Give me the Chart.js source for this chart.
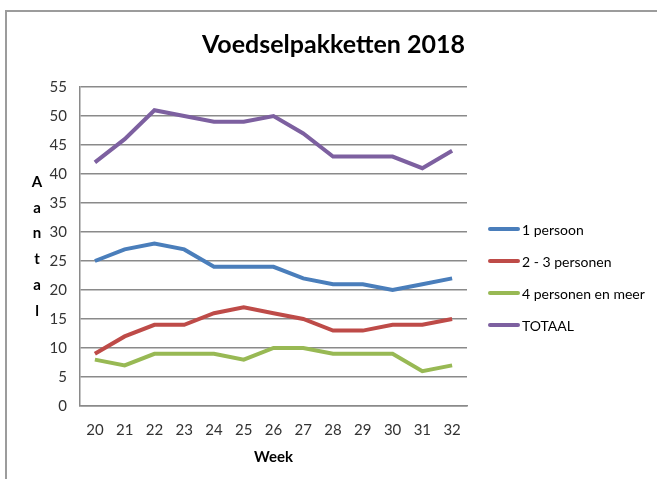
<!DOCTYPE html>
<html>
<head>
<meta charset="utf-8">
<script src="https://cdn.jsdelivr.net/npm/chart.js@4"></script>
<style>
  html, body { margin: 0; padding: 0; background: #fff; overflow: hidden; }
  #wrap { position: relative; width: 657px; height: 479px; }
  #frame { position: absolute; left: 5px; top: 10px; width: 700px; height: 520px; border-left: 2px solid #9c9c9c; border-top: 2px solid #9c9c9c; }
  #legend { position: absolute; left: 488px; top: 213px; font-family: Lato, sans-serif; font-size: 14px; color: #000; }
  #legend .item { display: flex; align-items: center; height: 32px; }
  #legend .swatch { width: 32px; height: 4px; border-radius: 2px; margin-right: 2px; }
</style>
</head>
<body>
<div id="wrap">
  <div id="frame"></div>
  <canvas id="chart" width="657" height="479"></canvas>
  <div id="legend"></div>
</div>
<script>
const weeks = ['20','21','22','23','24','25','26','27','28','29','30','31','32'];
const eenPersoon = [25, 27, 28, 27, 24, 24, 24, 22, 21, 21, 20, 21, 22];
const tweeDriePersonen = [9, 12, 14, 14, 16, 17, 16, 15, 13, 13, 14, 14, 15];
const vierPlus = [8, 7, 9, 9, 9, 8, 10, 10, 9, 9, 9, 6, 7];
const totaal = [42, 46, 51, 50, 49, 49, 50, 47, 43, 43, 43, 41, 44];
const seriesLabels = ['1 persoon', '2 - 3 personen', '4 personen en meer', 'TOTAAL'];
const seriesColors = ['#4a7ebb', '#be4b48', '#98b954', '#7d60a0'];
const yAxisLetters = ['A', 'a', 'n', 't', 'a', 'l'];

const FONT = 'Lato, "Open Sans", sans-serif';

// vertical stacked y-axis title like Excel
const stackedYTitle = {
  id: 'stackedYTitle',
  afterDraw(chart) {
    const { ctx, chartArea } = chart;
    const step = 25.8;
    const mid = (chartArea.top + chartArea.bottom) / 2;
    const start = mid - step * (yAxisLetters.length - 1) / 2;
    ctx.save();
    ctx.font = 'bold 15px ' + FONT;
    ctx.fillStyle = '#000';
    ctx.textAlign = 'center';
    ctx.textBaseline = 'middle';
    yAxisLetters.forEach((ch, i) => ctx.fillText(ch, 37, start + i * step));
    ctx.restore();
  }
};

const chart = new Chart(document.getElementById('chart'), {
  type: 'line',
  data: {
    labels: weeks,
    datasets: [eenPersoon, tweeDriePersonen, vierPlus, totaal].map((d, i) => ({
      label: seriesLabels[i],
      data: d,
      borderColor: seriesColors[i],
      backgroundColor: seriesColors[i],
      borderWidth: 4,
      pointRadius: 0,
      tension: 0,
      fill: false
    }))
  },
  options: {
    responsive: false,
    animation: false,
    layout: { padding: { left: 10, right: 0, top: 10, bottom: 13 } },
    plugins: {
      legend: { display: false },
      tooltip: { enabled: false },
      title: {
        display: true,
        text: 'Voedselpakketten 2018',
        color: '#000',
        font: { family: FONT, size: 25, weight: 'bold' },
        padding: { top: 20, bottom: 27 }
      }
    },
    scales: {
      x: {
        offset: true,
        afterFit: s => { s.height = 60; },
        grid: { display: false, drawTicks: false },
        border: { display: true, color: '#8a8a8a', width: 1.5 },
        ticks: { color: '#333', font: { family: FONT, size: 15 }, padding: 15, maxRotation: 0 },
        title: { display: true, text: 'Week', color: '#000', font: { family: FONT, size: 15, weight: 'bold' }, padding: { top: 9, bottom: 0 } }
      },
      y: {
        min: 0, max: 55,
        afterFit: s => { s.width = 70; },
        grid: { color: '#8a8a8a', lineWidth: 1.5, drawTicks: false },
        border: { display: true, color: '#8a8a8a', width: 1.5 },
        ticks: { stepSize: 5, color: '#333', font: { family: FONT, size: 15 }, padding: 13 }
      },
      yRight: {
        position: 'right',
        afterFit: s => { s.width = 190; },
        grid: { display: false, drawTicks: false },
        border: { display: false },
        ticks: { display: false }
      }
    }
  },
  plugins: [stackedYTitle]
});

// legend built from the chart's datasets
document.getElementById('legend').innerHTML = chart.data.datasets.map(ds =>
  `<div class="item"><span class="swatch" style="background:${ds.borderColor}"></span>${ds.label}</div>`
).join('');
</script>
</body>
</html>
